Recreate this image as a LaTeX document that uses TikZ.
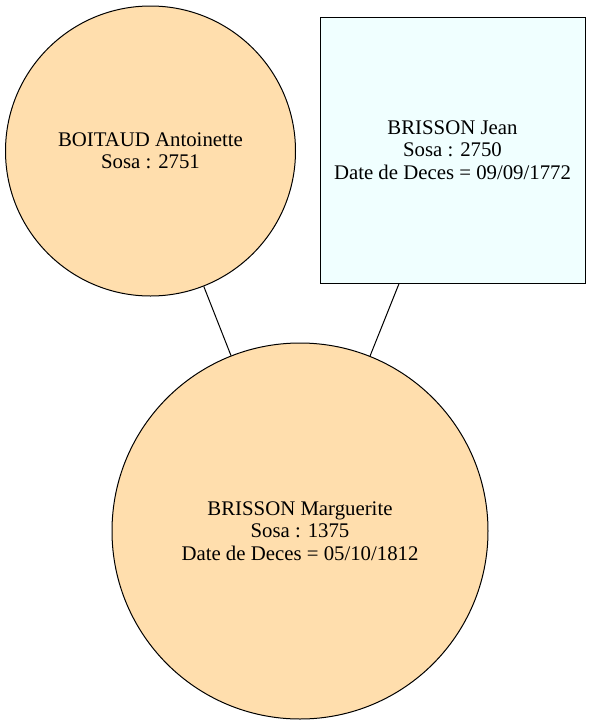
\documentclass[tikz,border=0pt]{standalone}
\usepackage{fontspec}
\setmainfont{Liberation Serif}
\definecolor{womanfill}{HTML}{FFDEAD}
\definecolor{manfill}{HTML}{F0FFFF}

\begin{document}
\begin{tikzpicture}[x=1pt, y=-1pt,
		woman/.style={circle, draw=black, line width=1pt, fill=womanfill, inner sep=0pt, align=center, font=\fontsize{20.8}{22.5}\selectfont},
		man/.style={rectangle, draw=black, line width=1pt, fill=manfill, inner sep=0pt, align=center, font=\fontsize{20.8}{22.5}\selectfont},
		link/.style={line width=1pt}]
		%%%%% START %%%%%
		
		\useasboundingbox (0, 0) rectangle (592, 726);
		
		\node[woman, minimum size=290pt] (antoinette) at (150.5, 151) {BOITAUD Antoinette\\Sosa : 2751};
		\node[man, minimum width=265pt, minimum height=266pt] (jean) at (452.5, 150) {BRISSON Jean\\Sosa : 2750\\Date de Deces = 09/09/1772};
		\node[woman, minimum size=376pt] (marguerite) at (300, 531) {BRISSON Marguerite\\Sosa : 1375\\Date de Deces = 05/10/1812};
		
		\draw[link] (antoinette) -- (marguerite);
		\draw[link] (jean) -- (marguerite);
		
		%%%%% END %%%%%
	\end{tikzpicture}
\end{document}
